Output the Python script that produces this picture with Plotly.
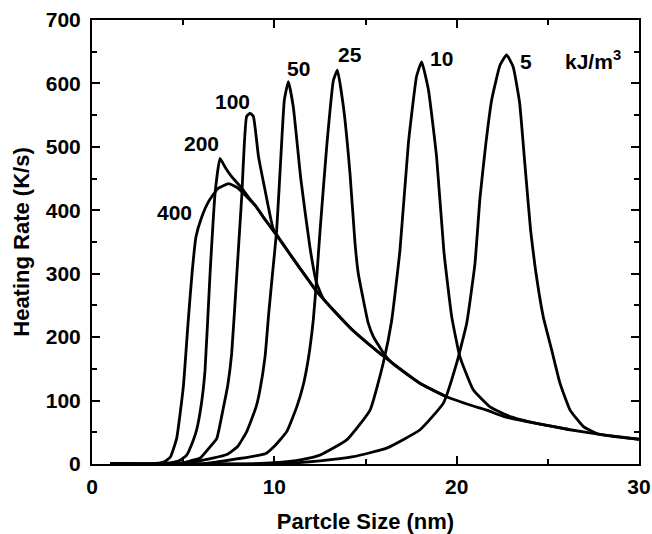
import plotly.graph_objects as go

# Particle size (nm) and heating rate (K/s) for each anisotropy value (kJ/m^3)
x_400 = [1, 2.5, 3.5, 4.0, 4.3, 4.64, 5.01, 5.28, 5.5, 5.7, 6.0, 6.4, 6.9, 7.5, 8.0, 8.5, 8.94, 9.5,
         10.04, 11.0, 12.32, 13.0, 14.33, 15.89, 18.0, 19.45, 20.73, 21.65, 22.56, 23.47, 24.38, 26.22, 28.04, 30]
y_400 = [0, 0, 1, 4, 11, 40, 122, 227, 305, 358, 388, 414, 434, 442, 435, 421, 408, 385,
         364, 325, 272, 250, 210, 172, 127, 106, 93, 85, 75, 69, 64, 54, 46, 39]

x_200 = [1, 3, 4.0, 4.5, 4.83, 5.19, 5.56, 5.74, 6.0, 6.2, 6.47, 6.75, 7.02, 7.3, 7.66, 8.21, 8.6, 9.0, 9.5,
         10.04]
y_200 = [0, 0, 1, 3, 6, 14, 38, 54, 95, 148, 298, 427, 482, 468, 453, 435, 420, 406, 385,
         364]

x_100 = [1, 4, 5.0, 5.4, 5.92, 6.47, 6.84, 7.2, 7.45, 7.66, 7.94, 8.21, 8.48, 8.67, 8.85, 9.13, 9.49,
         9.94, 10.5, 11.0, 12.32]
y_100 = [0, 0, 2, 5, 9, 27, 40, 88, 125, 174, 298, 421, 548, 553, 548, 485, 432,
         371, 346, 325, 272]

x_50 = [1, 5, 6.1, 7.4, 8.0, 8.5, 9.0, 9.2, 9.49, 9.7, 9.9, 10.13, 10.35, 10.55, 10.77, 11.04, 11.45,
        11.96, 12.32, 12.7, 13.2, 14.33, 15.89]
y_50 = [0, 0, 6, 15, 28, 52, 90, 115, 169, 240, 300, 369, 480, 574, 603, 563, 450,
        340, 285, 260, 244, 210, 172]

x_25 = [1, 6, 7.94, 9.5, 10.0, 10.68, 11.23, 11.59, 11.86, 12.14, 12.32, 12.5, 12.87, 13.24, 13.46,
        13.79, 14.15, 14.42, 14.6, 14.88, 15.15, 15.43, 15.98, 16.5, 17.2, 18.0, 19.45]
y_25 = [0, 0, 8, 16, 28, 51, 90, 125, 165, 228, 292, 365, 500, 605, 621,
        563, 458, 350, 301, 259, 222, 201, 175, 158, 143, 127, 106]

x_10 = [1, 8, 10, 11.5, 12.5, 13.97, 15.25, 15.98, 16.43, 16.89, 17.35, 17.8, 18.08, 18.45, 18.9,
        19.3, 19.73, 20.18, 20.91, 21.83, 22.74, 23.5, 24.38, 26.22]
y_10 = [0, 0, 2, 7, 14, 38, 85, 160, 225, 337, 505, 611, 634, 590, 484,
        335, 232, 169, 117, 90, 77, 70, 64, 54]

x_5 = [1, 10, 12.5, 14.33, 16.16, 17.99, 19.27, 20.0, 20.55, 21.0, 21.28, 21.6, 21.92, 22.38, 22.74,
       23.1, 23.45, 23.75, 24.05, 24.3, 24.75, 25.21, 25.67, 26.22, 26.95, 27.68, 28.5, 30]
y_5 = [0, 0, 5, 11.5, 25, 54, 96, 159, 222, 315, 420, 505, 574, 629, 645,
       626, 570, 470, 370, 311, 232, 180, 127, 85, 59, 48, 44, 39]

series = [(x_400, y_400), (x_200, y_200), (x_100, y_100), (x_50, y_50),
          (x_25, y_25), (x_10, y_10), (x_5, y_5)]

label_text = ["400", "200", "100", "50", "25", "10", "5", "kJ/m<sup>3</sup>"]
label_x = [4.5, 6.0, 7.7, 11.35, 14.15, 19.15, 23.78, 27.5]
label_y = [397, 505, 572, 624, 645, 640, 634, 637]

x_ticks = [0, 10, 20, 30]
y_ticks = [0, 100, 200, 300, 400, 500, 600, 700]

FONT = "Liberation Sans, Arial, Helvetica, sans-serif"

fig = go.Figure()
for xs, ys in series:
    fig.add_trace(go.Scatter(x=xs, y=ys, mode="lines",
                             line=dict(color="black", width=2.8, shape="spline", smoothing=0.4),
                             showlegend=False, hoverinfo="skip"))

for t, x, y in zip(label_text, label_x, label_y):
    fig.add_annotation(x=x, y=y, text=t, showarrow=False,
                       font=dict(family=FONT, size=21, color="black", weight="bold"))

axis_common = dict(showgrid=False, zeroline=False, showline=True, linecolor="black", linewidth=2,
                   mirror="allticks", ticks="inside", ticklen=8, tickwidth=2, tickcolor="black",
                   automargin=False,
                   tickfont=dict(family=FONT, size=21, color="black", weight="bold"))

fig.update_xaxes(range=[0, 30], tickvals=x_ticks, ticklabelstandoff=3,
                 minor=dict(ticks="inside", tickvals=[5, 15, 25], ticklen=5, tickwidth=2, tickcolor="black"),
                 title=dict(text="Partcle Size (nm)", standoff=20,
                            font=dict(family=FONT, size=22, color="black", weight="bold")),
                 **axis_common)
fig.update_yaxes(range=[0, 700], tickvals=y_ticks, ticklabelstandoff=5,
                 minor=dict(ticks="inside", tickvals=[50, 150, 250, 350, 450, 550, 650], ticklen=5,
                            tickwidth=2, tickcolor="black"),
                 title=dict(text="Heating Rate (K/s)", standoff=10,
                            font=dict(family=FONT, size=22, color="black", weight="bold")),
                 **axis_common)

fig.update_layout(width=652, height=534, margin=dict(l=92, r=13, t=20, b=70),
                  plot_bgcolor="white", paper_bgcolor="white")

# remove the default page margin so the figure fills the 652x534 window exactly
fig.write_html("out.html", config={"displayModeBar": False},
               post_script="document.body.style.margin='0';")
